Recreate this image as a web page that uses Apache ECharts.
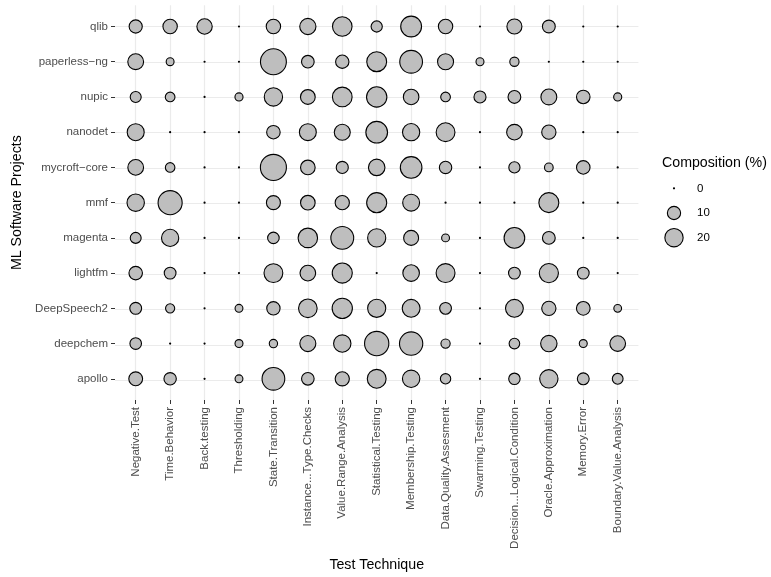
<!DOCTYPE html>
<html><head><meta charset="utf-8">
<script src="https://cdn.jsdelivr.net/npm/echarts@6/dist/echarts.min.js"></script>
<style>html,body{margin:0;padding:0;background:#fff}#c{width:771px;height:577px}</style>
</head><body><div id="c"></div>
<script>
const techniques = ['Negative.Test','Time.Behavior','Back.testing','Thresholding','State.Transition','Instance...Type.Checks','Value.Range.Analysis','Statistical.Testing','Membership.Testing','Data.Quality.Assesment','Swarming.Testing','Decision...Logical.Condition','Oracle.Approximation','Memory.Error','Boundary.Value.Analysis'];
const projects = ['apollo','deepchem','DeepSpeech2','lightfm','magenta','mmf','mycroft\u2212core','nanodet','nupic','paperless\u2212ng','qlib'];

const apollo      = [10.9, 8.6, 0, 3.1, 31.6, 8.9, 11.6, 21.2, 17.9, 5.8, 0, 7.2, 20, 7.8, 6.3];
const deepchem    = [7.4, 0, 0, 3.2, 3.5, 15, 17.9, 36.3, 33.3, 4.5, 0, 6.1, 15.8, 3.2, 14.4];
const deepSpeech2 = [7.8, 4.4, 0, 3.1, 10.1, 20.7, 24.8, 19.6, 18.9, 7.7, 0, 18.9, 11.7, 10.7, 3];
const lightfm     = [10.4, 7.7, 0, 0, 21.2, 14.3, 24.3, 0, 16.2, 21.4, 0, 7.7, 22.1, 7.7, 0];
const magenta     = [6.5, 17.6, 0, 0, 7.4, 22.8, 31.9, 19.6, 13, 3.1, 0, 25.8, 9.2, 0, 0];
const mmf         = [17.9, 35.7, 0, 0, 11.2, 12.3, 11.7, 24.3, 16.8, 0, 0, 0, 24, 0, 0];
const mycroftCore = [14.4, 4.8, 0, 0, 41.9, 12.3, 8.1, 16, 28.4, 8.6, 0, 6.9, 3.9, 10.4, 0];
const nanodet     = [17.1, 0, 0, 0, 10.4, 16.9, 15, 28.6, 17.6, 21.2, 0, 14.1, 11.7, 0, 0];
const nupic       = [6.6, 5, 0, 3.3, 20, 12.6, 23.3, 25, 14.1, 5, 8.1, 9.2, 14.8, 10.4, 3.3];
const paperlessNg = [14.6, 3.1, 0, 0, 41.6, 9, 10.1, 23.8, 31.6, 15, 3.2, 4.5, 0, 0, 0];
const qlib        = [9.8, 11.9, 13.7, 0, 11.9, 15.4, 23, 6.9, 26.3, 11.9, 0, 13.1, 9.3, 0, 0];

const legendValues = [0, 10, 20];

const rows = [apollo, deepchem, deepSpeech2, lightfm, magenta, mmf, mycroftCore, nanodet, nupic, paperlessNg, qlib];
const data = [];
rows.forEach((r, yi) => r.forEach((v, xi) => data.push([xi, yi, v])));

const BW = 1.1;
const sz = v => 1.1 + 3.85 * Math.sqrt(v);
const FONT = "'Liberation Sans', Arial, Helvetica, sans-serif";
const gridLine = { show: true, interval: 0, lineStyle: { color: '#EBEBEB', width: 1.2 } };
const hiddenVal = (gi) => ({ type: 'value', gridIndex: gi, show: false, min: 0, max: 1 });

const chart = echarts.init(document.getElementById('c'), null, { renderer: 'canvas' });
chart.setOption({
  animation: false,
  backgroundColor: '#ffffff',
  textStyle: { fontFamily: FONT },
  title: {
    text: 'Composition (%)', left: 662, top: 156, padding: 0,
    textStyle: { fontFamily: FONT, fontSize: 14.2, fontWeight: 'normal', color: '#000' }
  },
  grid: [
    { left: 135.7, width: 482, top: 26.5, height: 354 },          // data
    { left: 135.7, width: 482, top: 5.3, height: 396.4 },         // vertical grid lines
    { left: 115.0, width: 523.4, top: 26.5, height: 354 },        // horizontal grid lines
    { left: 664, width: 20, top: 176, height: 74 }                // size legend
  ],
  xAxis: [
    {
      type: 'category', gridIndex: 0, data: techniques, boundaryGap: false, offset: 21.2,
      axisLine: { show: false },
      axisTick: { show: true, alignWithLabel: true, length: 4, lineStyle: { color: '#333333', width: 1 } },
      axisLabel: { rotate: 90, interval: 0, margin: 7, color: '#4D4D4D', fontSize: 11.5, fontFamily: FONT },
      splitLine: { show: false },
      name: 'Test Technique', nameLocation: 'middle', nameGap: 158,
      nameTextStyle: { color: '#000', fontSize: 14.2, fontFamily: FONT }
    },
    {
      type: 'category', gridIndex: 1, data: techniques, boundaryGap: false,
      axisLine: { show: false }, axisTick: { show: false }, axisLabel: { show: false },
      splitLine: gridLine
    },
    hiddenVal(2),
    hiddenVal(3)
  ],
  yAxis: [
    {
      type: 'category', gridIndex: 0, data: projects, boundaryGap: false, offset: 20.7,
      axisLine: { show: false },
      axisTick: { show: true, alignWithLabel: true, length: 4, lineStyle: { color: '#333333', width: 1 } },
      axisLabel: { interval: 0, margin: 7, color: '#4D4D4D', fontSize: 11.5, fontFamily: FONT },
      splitLine: { show: false },
      name: 'ML Software Projects', nameLocation: 'middle', nameRotate: 90, nameGap: 86,
      nameTextStyle: { color: '#000', fontSize: 14.2, fontFamily: FONT }
    },
    hiddenVal(1),
    {
      type: 'category', gridIndex: 2, data: projects, boundaryGap: false,
      axisLine: { show: false }, axisTick: { show: false }, axisLabel: { show: false },
      splitLine: gridLine
    },
    {
      type: 'category', gridIndex: 3, data: legendValues.map(String), inverse: true, position: 'right',
      axisLine: { show: false }, axisTick: { show: false }, splitLine: { show: false },
      axisLabel: { margin: 13, color: '#000', fontSize: 11.5, fontFamily: FONT }
    }
  ],
  series: [
    {
      type: 'scatter', xAxisIndex: 0, yAxisIndex: 0, z: 3,
      data: data,
      symbol: 'circle',
      symbolSize: d => sz(d[2]),
      itemStyle: { color: '#BEBEBE', borderColor: '#000', borderWidth: BW, opacity: 1 },
      emphasis: { disabled: true },
      silent: true
    },
    {
      type: 'scatter', xAxisIndex: 3, yAxisIndex: 3, z: 3,
      data: legendValues.map(v => [0.5, String(v), v]),
      symbol: 'circle',
      symbolSize: d => sz(d[2]),
      itemStyle: { color: '#BEBEBE', borderColor: '#000', borderWidth: BW, opacity: 1 },
      emphasis: { disabled: true },
      silent: true
    }
  ]
});
</script>
</body></html>
